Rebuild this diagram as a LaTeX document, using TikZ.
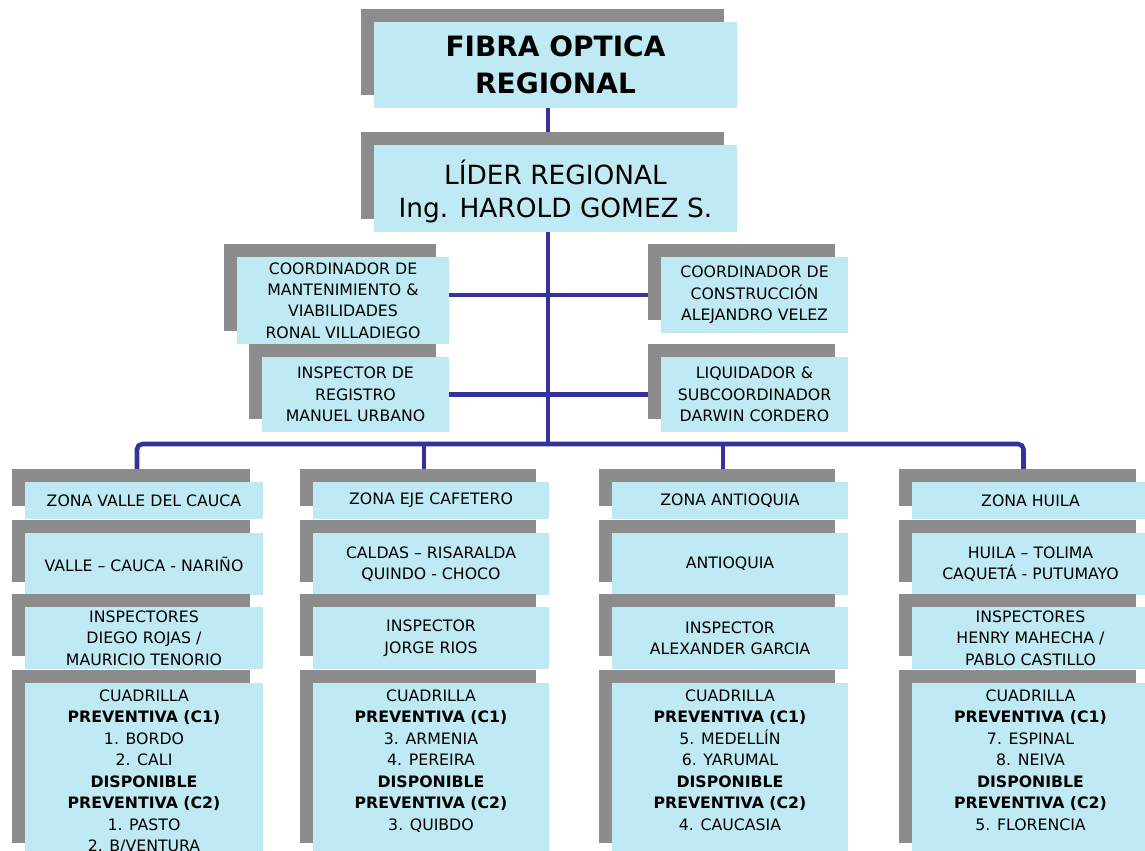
\documentclass[tikz,border=0pt]{standalone}
\usepackage{fontspec}
\setmainfont{DejaVu Sans}
\usetikzlibrary{backgrounds}
\definecolor{boxcyan}{RGB}{191,234,243}
\definecolor{shgray}{RGB}{140,140,140}
\definecolor{linkblue}{RGB}{51,51,153}
\tikzset{
  cbox/.style={fill=boxcyan, inner sep=0pt, align=center, text=black},
  ftitle/.style={font=\fontsize{21}{27.5}\selectfont\bfseries},
  flead/.style={font=\fontsize{19.8}{24.75}\selectfont},
  fsmall/.style={font=\fontsize{11.8}{16.1}\selectfont},
  conn/.style={draw=linkblue, line width=3.4pt},
}
% #1 options, #2 name, #3 x1, #4 y1, #5 x2, #6 y2, #7 text
\newcommand{\obox}[7]{%
  \fill[shgray] ({#3-13},{#4-13.5}) rectangle ({#5-13},{#6-13.5});
  \node[cbox,#1,minimum width={(#5-#3)*0.75pt},minimum height={(#6-#4)*0.75pt}] (#2) at ({(#3+#5)/2},{(#4+#6)/2}) {#7};
}
% #1 name, #2 x1, #3 x2, #4 text
\newcommand{\cuadbox}[4]{%
  \fill[shgray] ({#2-13},{683-13.5}) rectangle ({#3-13},{856-13.5});
  \node[cbox,minimum width={(#3-#2)*0.75pt},minimum height={173*0.75pt},anchor=north] (#1) at ({(#2+#3)/2},683) {};
  \node[fsmall,align=center,inner sep=0pt,anchor=north] (#1t) at ({(#2+#3)/2},689.3) {#4};
}
\begin{document}
\begin{tikzpicture}[x=0.75pt,y=-0.75pt]
\useasboundingbox (0,0) rectangle (1145,850);
\clip (0,0) rectangle (1145,850);
\coordinate (trunk) at (548,0);
\coordinate (bus) at (548,444);
\coordinate (d1) at (137,0);
\coordinate (d2) at (424,0);
\coordinate (d3) at (723,0);
\coordinate (d4) at (1023.5,0);

\obox{ftitle}{fo}{374}{22}{737}{108}{FIBRA OPTICA\\REGIONAL}
\obox{flead,text depth=0pt}{ld}{374}{145}{737}{232}{LÍDER REGIONAL\\Ing. HAROLD GOMEZ S.}
\obox{fsmall}{lc}{237}{257}{449}{344}{COORDINADOR DE\\MANTENIMIENTO \&\\VIABILIDADES\\RONAL VILLADIEGO}
\obox{fsmall}{rc}{661}{257}{848}{333}{COORDINADOR DE\\CONSTRUCCIÓN\\ALEJANDRO VELEZ}
\obox{fsmall}{li}{262}{357}{449}{432}{INSPECTOR DE\\REGISTRO\\MANUEL URBANO}
\obox{fsmall}{rl}{661}{357}{848}{432}{LIQUIDADOR \&\\SUBCOORDINADOR\\DARWIN CORDERO}

% column 1
\obox{fsmall}{z1}{25}{482}{263}{519}{ZONA VALLE DEL CAUCA}
\obox{fsmall}{r1}{25}{533}{263}{595}{VALLE – CAUCA - NARIÑO}
\obox{fsmall}{i1}{25}{607}{263}{669}{INSPECTORES\\DIEGO ROJAS /\\MAURICIO TENORIO}
\cuadbox{q1}{25}{263}{CUADRILLA\\\textbf{PREVENTIVA (C1)}\\1. BORDO\\2. CALI\hspace*{18pt}\\\textbf{DISPONIBLE}\hspace*{7pt}\\\textbf{PREVENTIVA (C2)}\\1. PASTO\hspace*{28pt}\\2. B/VENTURA}
% column 2
\obox{fsmall}{z2}{313}{482}{549}{519}{ZONA EJE CAFETERO}
\obox{fsmall}{r2}{313}{533}{549}{595}{CALDAS – RISARALDA\\QUINDO - CHOCO}
\obox{fsmall}{i2}{313}{607}{549}{669}{INSPECTOR\\JORGE RIOS}
\cuadbox{q2}{313}{549}{CUADRILLA\\\textbf{PREVENTIVA (C1)}\\3. ARMENIA\\4. PEREIRA\\\textbf{DISPONIBLE}\hspace*{5pt}\\\textbf{PREVENTIVA (C2)}\\3. QUIBDO}
% column 3
\obox{fsmall}{z3}{612}{482}{848}{519}{ZONA ANTIOQUIA}
\obox{fsmall}{r3}{612}{533}{848}{595}{ANTIOQUIA}
\obox{fsmall}{i3}{612}{607}{848}{669}{INSPECTOR\\ALEXANDER GARCIA}
\cuadbox{q3}{612}{848}{CUADRILLA\\\textbf{PREVENTIVA (C1)}\\5. MEDELLÍN\\6. YARUMAL\\\textbf{DISPONIBLE}\hspace*{6pt}\\\textbf{PREVENTIVA (C2)}\\4. CAUCASIA}
% column 4
\obox{fsmall}{z4}{912}{482}{1149}{519}{ZONA HUILA}
\obox{fsmall}{r4}{912}{533}{1149}{595}{HUILA – TOLIMA\\CAQUETÁ - PUTUMAYO}
\obox{fsmall}{i4}{912}{607}{1149}{669}{INSPECTORES\\HENRY MAHECHA /\\PABLO CASTILLO}
\cuadbox{q4}{912}{1149}{CUADRILLA\\\textbf{PREVENTIVA (C1)}\\7. ESPINAL\\8. NEIVA\\\textbf{DISPONIBLE}\hspace*{6pt}\\\textbf{PREVENTIVA (C2)}\\5. FLORENCIA}

\begin{scope}[on background layer]
  \fill[white] (0,0) rectangle (1145,850);
  \draw[conn] (fo.south -| trunk) -- (ld.north -| trunk);
  \draw[conn] (ld.south -| trunk) -- (bus);
  \draw[conn] (lc.east |- rc.west) -- (rc.west);
  \draw[conn] (li.east) -- (rl.west);
  \draw[conn,rounded corners=4pt] (z1.north -| d1) |- (bus) -| (z4.north -| d4);
  \draw[conn] (z2.north -| d2) -- (d2 |- bus);
  \draw[conn] (z3.north -| d3) -- (d3 |- bus);
\end{scope}
\end{tikzpicture}
\end{document}
